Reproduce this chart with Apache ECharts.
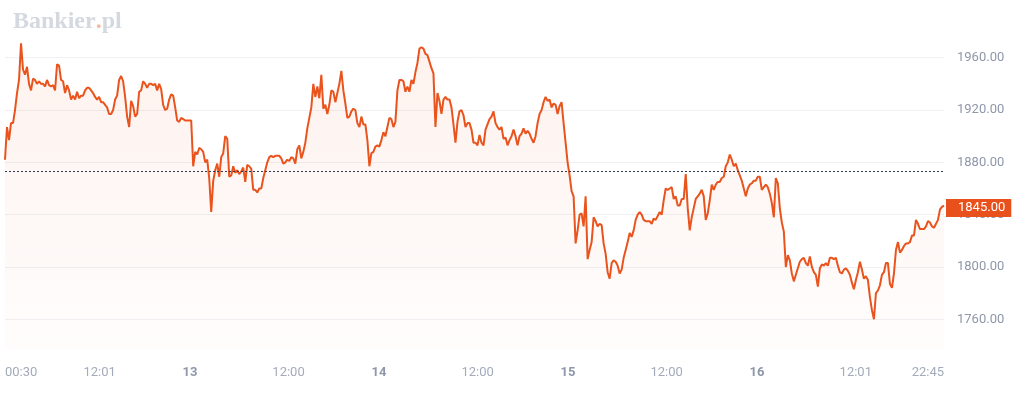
<!DOCTYPE html>
<html><head><meta charset="utf-8">
<script src="https://cdn.jsdelivr.net/npm/echarts@6/dist/echarts.min.js"></script>
<style>html,body{margin:0;padding:0;background:#fff;overflow:hidden}#c{width:1024px;height:399px}</style>
</head><body><div id="c"></div>
<script>
// ---- data (evenly spaced in trading time) ----
const prices = [
1882,1907,1897,1910,1910,1920,1933,1943,1971,1951,1947,1953,1940,1935,1944,1943,1940,1942,1940,1940,
1938,1943,1939,1938,1939,1935,1955,1954,1943,1942,1933,1939,1935,1928,1931,1928,1934,1929,1931,1931,
1935,1937,1937,1935,1933,1930,1928,1930,1926,1926,1924,1922,1917,1917,1920,1928,1931,1943,1946,1942,
1930,1915,1907,1927,1923,1915,1917,1934,1935,1942,1940,1937,1940,1940,1939,1940,1935,1940,1936,1924,
1920,1921,1928,1932,1931,1922,1912,1911,1914,1913,1912,1912,1912,1912,1877,1888,1886,1891,1890,1888,
1880,1882,1868,1842,1866,1874,1879,1869,1884,1887,1900,1898,1869,1870,1877,1872,1874,1871,1873,1876,
1865,1878,1877,1875,1859,1859,1857,1860,1860,1868,1874,1880,1884,1885,1884,1885,1885,1885,1883,1879,
1880,1882,1881,1884,1883,1879,1890,1893,1883,1888,1895,1906,1914,1922,1940,1930,1938,1929,1947,1921,
1924,1917,1924,1935,1934,1926,1933,1940,1950,1935,1925,1914,1915,1919,1921,1920,1910,1907,1915,1909,
1909,1897,1877,1887,1888,1892,1893,1892,1897,1903,1900,1907,1914,1913,1907,1911,1935,1943,1943,1942,
1934,1938,1934,1943,1940,1949,1956,1967,1968,1967,1963,1962,1957,1952,1948,1907,1933,1927,1917,1928,
1930,1928,1928,1922,1909,1895,1911,1919,1920,1916,1907,1910,1910,1905,1895,1895,1893,1901,1895,1893,
1905,1909,1913,1915,1919,1910,1907,1905,1907,1898,1899,1893,1897,1900,1905,1900,1893,1900,1902,1906,
1902,1904,1902,1898,1895,1900,1910,1917,1920,1926,1930,1927,1928,1922,1925,1924,1917,1923,1926,1910,
1895,1880,1870,1858,1854,1818,1828,1840,1841,1831,1854,1806,1813,1819,1838,1835,1831,1833,1832,1818,
1810,1796,1791,1803,1805,1804,1801,1795,1798,1807,1813,1819,1826,1823,1828,1836,1840,1842,1840,1836,
1835,1835,1835,1833,1837,1836,1839,1842,1840,1851,1860,1859,1860,1861,1852,1854,1847,1847,1852,1852,
1871,1845,1828,1838,1845,1852,1854,1856,1859,1854,1836,1841,1851,1863,1859,1863,1865,1865,1868,1869,
1877,1880,1886,1882,1877,1879,1874,1870,1866,1860,1854,1860,1863,1864,1866,1866,1869,1869,1859,1861,
1863,1861,1856,1849,1838,1868,1864,1845,1834,1827,1800,1809,1805,1795,1789,1794,1799,1804,1806,1807,
1803,1801,1808,1800,1796,1794,1785,1799,1802,1801,1803,1801,1807,1807,1806,1807,1801,1796,1795,1798,
1799,1797,1794,1788,1783,1790,1796,1804,1798,1791,1793,1790,1777,1767,1760,1780,1782,1786,1794,1796,
1803,1803,1787,1784,1795,1813,1819,1811,1813,1816,1818,1818,1819,1824,1824,1836,1833,1829,1829,1829,
1831,1835,1834,1831,1830,1833,1836,1844,1846,1847
];
const startDay = 12, startClock = '00:30';
const endDay = 16, endClock = '22:45';
const tickDays   = [12, 12, 13, 13, 14, 14, 15, 15, 16, 16, 16];
const tickClocks = ['00:30','12:01','00:00','12:00','00:00','12:00','00:00','12:00','00:00','12:01','22:45'];
const tickLabels = ['00:30','12:01','13','12:00','14','12:00','15','12:00','16','12:01','22:45'];
const prevClose = 1873.4;
const lastPrice = 1845.00;
const areaFloor = 1737.3;
const logoParts = ['Bankier', '.', 'pl'];

// trading hours since day 12 00:00 (one-hour daily break 23:00-24:00)
function tradingHour(day, clock) {
  const [h, m] = clock.split(':').map(Number);
  return (day - 12) * 23 + h + m / 60;
}
const t0 = tradingHour(startDay, startClock);
const t1 = tradingHour(endDay, endClock);
const seriesData = prices.map((v, i) => [t0 + i * (t1 - t0) / (prices.length - 1), v]);
const tickValues = tickDays.map((d, i) => tradingHour(d, tickClocks[i]));
const dayTick = tickClocks.map(c => c === '00:00');

const FONT = 'Roboto';
const chart = echarts.init(document.getElementById('c'), null, {renderer: 'canvas'});
chart.setOption({
  animation: false,
  backgroundColor: '#ffffff',
  title: {
    text: '{a|' + logoParts[0] + '}{b|' + logoParts[1] + '}{a|' + logoParts[2] + '}',
    left: 8, top: 5,
    textStyle: {
      rich: {
        a: {fontFamily: 'Liberation Serif', fontWeight: 'bold', fontSize: 24, color: '#d4d9e0'},
        b: {fontFamily: 'Liberation Serif', fontWeight: 'bold', fontSize: 24, color: '#f3bda4'}
      }
    }
  },
  grid: {left: 5, right: 80, top: 5.4, bottom: 27.4, containLabel: false},
  xAxis: {
    type: 'value', min: t0, max: t1,
    axisLine: {show: false}, axisTick: {show: false}, splitLine: {show: false},
    axisLabel: {
      customValues: tickValues,
      alignMinLabel: 'left', alignMaxLabel: 'right',
      verticalAlign: 'middle', margin: 1.5,
      fontFamily: FONT, fontSize: 13, color: '#a3abba',
      formatter: function (v) {
        let k = 0, best = Infinity;
        tickValues.forEach((tv, i) => { const d = Math.abs(tv - v); if (d < best) { best = d; k = i; } });
        return dayTick[k] ? '{d|' + tickLabels[k] + '}' : tickLabels[k];
      },
      rich: {d: {fontFamily: FONT, fontSize: 13, fontWeight: 'bold', color: '#8f98aa'}}
    }
  },
  yAxis: {
    type: 'value', position: 'right', min: 1720, max: 2000, interval: 40,
    axisLine: {show: false}, axisTick: {show: false},
    splitLine: {show: true, showMinLine: false, showMaxLine: false, lineStyle: {color: '#eff0f3', width: 1}},
    axisLabel: {
      showMinLabel: false, showMaxLabel: false, margin: 13,
      fontFamily: FONT, fontSize: 13, color: '#8e97a9',
      formatter: v => v.toFixed(2)
    }
  },
  series: [{
    type: 'line',
    data: seriesData,
    showSymbol: false, symbol: 'none',
    lineStyle: {color: '#e9531d', width: 2},
    areaStyle: {
      origin: areaFloor,
      color: new echarts.graphic.LinearGradient(0, 0, 0, 1, [
        {offset: 0, color: 'rgba(233,83,29,0.11)'},
        {offset: 1, color: 'rgba(233,83,29,0.02)'}
      ])
    },
    markLine: {
      silent: true, symbol: ['none', 'none'], animation: false,
      data: [
        {yAxis: prevClose, lineStyle: {color: '#2e3a55', width: 1, type: [2, 2]}, label: {show: false}},
        {yAxis: lastPrice, lineStyle: {color: 'rgba(0,0,0,0)', width: 1, type: 'solid'},
         label: {show: true, position: 'end', distance: 2, formatter: lastPrice.toFixed(2),
                 color: '#ffffff', backgroundColor: '#e8511c', fontFamily: FONT, fontSize: 13,
                 padding: [2, 6, 2, 12], lineHeight: 14}}
      ]
    }
  }]
});
</script></body></html>
